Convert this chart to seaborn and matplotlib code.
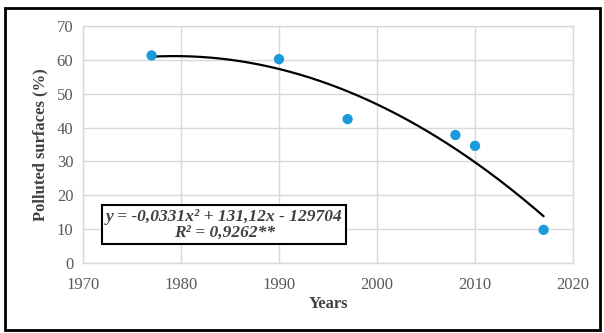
import numpy as np
import pandas as pd
import matplotlib
matplotlib.use("Agg")
import matplotlib.pyplot as plt
import seaborn as sns
from matplotlib.patches import Rectangle

# ========================
# DATA
# ========================
years = [1977, 1990, 1997, 2008, 2010, 2017]
polluted = [61.3, 60.2, 42.5, 37.8, 34.6, 9.8]
x_ticks = [1970, 1980, 1990, 2000, 2010, 2020]
y_ticks = [0, 10, 20, 30, 40, 50, 60, 70]
equation = "y = -0,0331x² + 131,12x - 129704\nR² = 0,9262**"

# ========================
# STYLE
# ========================
sns.set_theme(style="white")
plt.rcParams["font.family"] = ["Liberation Serif", "DejaVu Serif"]

df = pd.DataFrame({"year": years, "pct": polluted})

fig = plt.figure(figsize=(6.04, 3.33), dpi=100)
ax = fig.add_axes([0.1374, 0.2102, 0.8113, 0.7118])

# polynomial trend line (order 2)
coef = np.polyfit(df["year"], df["pct"], 2)
xs = np.linspace(min(years), max(years), 200)
trend = pd.DataFrame({"year": xs, "pct": np.polyval(coef, xs)})
sns.lineplot(data=trend, x="year", y="pct", ax=ax, color="black", linewidth=1.6, zorder=3)

sns.scatterplot(data=df, x="year", y="pct", ax=ax, color="#1b9bdc", s=55,
                edgecolor="none", zorder=4)

ax.set_xlim(1970, 2020)
ax.set_ylim(0, 70)
ax.set_xticks(x_ticks)
ax.set_yticks(y_ticks)
ax.grid(True, color="#d9d9d9", linewidth=1.0)
for sp in ax.spines.values():
    sp.set_color("#d9d9d9")
    sp.set_linewidth(1.0)
ax.tick_params(axis="both", length=0, labelsize=12, colors="#595959")
ax.tick_params(axis="x", pad=10)
ax.tick_params(axis="y", pad=7)

ax.set_xlabel("Years", fontsize=12, fontweight="bold", color="#404040", labelpad=2)
ax.set_ylabel("Polluted surfaces (%)", fontsize=12, fontweight="bold", color="#404040", labelpad=6)

ax.text(1984.4, 11.3, equation, fontsize=12.5, fontstyle="italic", fontweight="bold",
        color="#404040", ha="center", va="center", linespacing=1.0, zorder=5,
        bbox=dict(boxstyle="square,pad=0.2", facecolor="white", edgecolor="black", linewidth=1.5))

# outer frame
fig.patches.append(Rectangle((0.009, 0.009), 0.985, 0.968, transform=fig.transFigure,
                             fill=False, edgecolor="black", linewidth=2))

fig.savefig("out.png", dpi=100)
